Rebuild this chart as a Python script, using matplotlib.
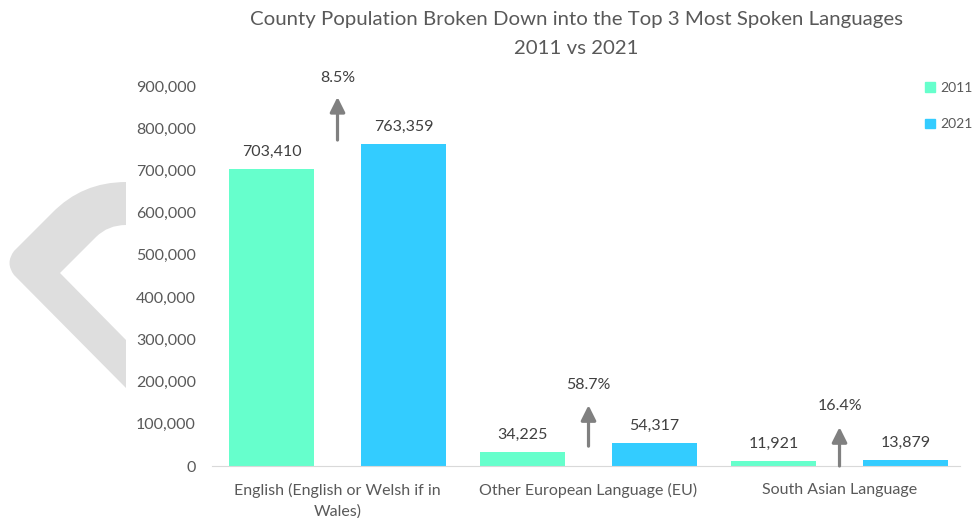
import matplotlib.pyplot as plt
import numpy as np
from matplotlib.patches import PathPatch, Patch
from matplotlib.path import Path

plt.rcParams['font.family'] = ['Lato', 'DejaVu Sans']

categories = ["English (English or Welsh if in\nWales)", "Other European Language (EU)", "South Asian Language"]
pop_2011 = [703410, 34225, 11921]
pop_2021 = [763359, 54317, 13879]
pct_change = ["8.5%", "58.7%", "16.4%"]
arrow_from = [772000, 47000, 0]
arrow_to = [874000, 144000, 92000]
pct_label_y = [919000, 192000, 142000]

c2011 = "#66FFCC"
c2021 = "#33CCFF"
grey = "#595959"

fig = plt.figure(figsize=(9.74, 5.18), dpi=100)
W, H = 974, 518

# decorative chevron behind the chart, clipped at the tick labels
verts = [(126, 182), (82, 182), (52, 213), (14, 251), (5, 263), (14, 275), (126, 388),
         (126, 340), (60, 273), (96, 237), (108, 225), (126, 225), (126, 182)]
codes = [Path.MOVETO, Path.CURVE3, Path.CURVE3, Path.LINETO, Path.CURVE3, Path.CURVE3, Path.LINETO,
         Path.LINETO, Path.LINETO, Path.LINETO, Path.CURVE3, Path.CURVE3, Path.CLOSEPOLY]
verts = [(px / W, 1 - py / H) for px, py in verts]
fig.patches.append(PathPatch(Path(verts, codes), transform=fig.transFigure, facecolor="#DEDEDE", edgecolor="none", zorder=0))

ax = fig.add_axes([212 / W, 1 - 466 / H, (960 - 212) / W, (466 - 86) / H])
ax.patch.set_alpha(0)

x = np.arange(len(categories))
bw = 0.339
off = 0.263
ax.bar(x - off, pop_2011, bw, color=c2011, label="2011")
ax.bar(x + off, pop_2021, bw, color=c2021, label="2021")

for i in range(len(categories)):
    ax.text(x[i] - off, pop_2011[i] + 24000, f"{pop_2011[i]:,}", ha="center", va="bottom", fontsize=11.5, color="#404040")
    ax.text(x[i] + off, pop_2021[i] + 24000, f"{pop_2021[i]:,}", ha="center", va="bottom", fontsize=11.5, color="#404040")
    ax.annotate("", xy=(x[i], arrow_to[i]), xytext=(x[i], arrow_from[i]),
                arrowprops=dict(arrowstyle="-|>,head_width=0.45,head_length=0.9", color="#808080", lw=2.3, shrinkA=0, shrinkB=0))
    ax.text(x[i], pct_label_y[i], pct_change[i], ha="center", va="center", fontsize=11.5, color="#404040")

ax.set_xlim(-0.5, 2.48)
ax.set_ylim(0, 900000)
ax.set_yticks(np.arange(0, 900001, 100000))
ax.yaxis.set_major_formatter(plt.FuncFormatter(lambda v, p: f"{int(v):,}"))
ax.set_xticks(x)
ax.set_xticklabels(categories)
ax.tick_params(axis="both", length=0, colors=grey, labelsize=11.5)
ax.tick_params(axis="y", pad=11.5)
ax.tick_params(axis="x", pad=12)
for lab in ax.get_xticklabels():
    lab.set_linespacing(1.6)
for s in ["top", "right", "left"]:
    ax.spines[s].set_visible(False)
ax.spines["bottom"].set_color("#D9D9D9")

fig.text(576 / W, 1 - 20 / H, "County Population Broken Down into the Top 3 Most Spoken Languages", ha="center", va="center", fontsize=14.7, color=grey)
fig.text(576 / W, 1 - 48 / H, "2011 vs 2021", ha="center", va="center", fontsize=14.7, color=grey)

handles = [Patch(color=c2011, label="2011"), Patch(color=c2021, label="2021")]
fig.legend(handles=handles, loc="upper right", bbox_to_anchor=(973 / W, 1 - 82 / H), frameon=False,
           borderaxespad=0, borderpad=0,
           handlelength=0.7, handleheight=0.7, handletextpad=0.4, labelspacing=1.75, fontsize=10, labelcolor=grey)

fig.savefig("out.png", dpi=100)
